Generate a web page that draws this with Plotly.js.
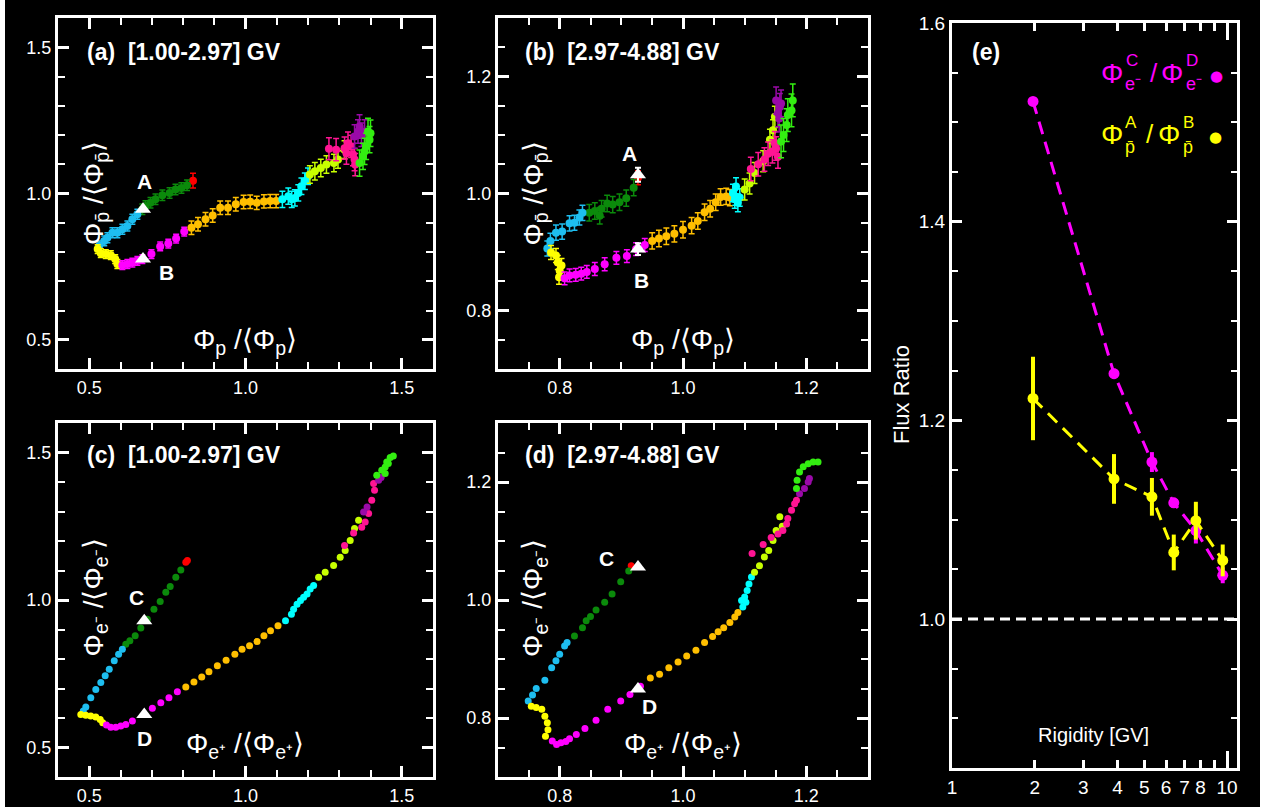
<!DOCTYPE html>
<html><head><meta charset="utf-8">
<script src="https://cdn.plot.ly/plotly-3.0.1.min.js"></script>
<style>html,body{margin:0;padding:0;background:#ffffff;}</style>
</head><body><div id="chart" style="width:1268px;height:811px;"></div>
<script>
// ---------------- DATA ----------------
// colour segments (time order of the trajectory)
const SEGMENTS = ['red','darkgreen','skyblue','yellow','magenta','orange','cyan','yellowgreen','pink','purple','green'];
const SEG_COLORS = ['#ff0000','#0b8a0b','#1ebef0','#ffff00','#ff00ff','#ffbf00','#00ffff','#c8ff00','#ff1493','#9a0aa8','#33ee11'];

// Panel (a): antiproton vs proton normalised flux, [1.00-2.97] GV
const A_X = [
  [0.832],
  [0.813,0.795,0.776,0.757,0.734,0.712,0.696,0.680,0.670],
  [0.654,0.638,0.622,0.606,0.590,0.574,0.558,0.548,0.532],
  [0.527,0.537,0.553,0.569,0.583,0.590],
  [0.606,0.622,0.638,0.654,0.670,0.699,0.727,0.753,0.778,0.804],
  [0.827,0.848,0.872,0.895,0.919,0.944,0.969,0.994,1.015,1.036,1.059,1.079,1.098],
  [1.118,1.137,1.148,1.158,1.169,1.179,1.190,1.200],
  [1.206,1.222,1.241,1.259,1.283,1.296,1.317],
  [1.267,1.290,1.317,1.328,1.338,1.323,1.344,1.349,1.351],
  [1.349,1.360,1.365,1.371,1.381],
  [1.365,1.376,1.381,1.386,1.397,1.392,1.400]
];
const A_Y = [
  [1.044],
  [1.028,1.019,1.014,1.002,0.994,0.980,0.968,0.957,0.946],
  [0.929,0.912,0.889,0.878,0.866,0.866,0.849,0.838,0.821],
  [0.810,0.796,0.793,0.789,0.776,0.759],
  [0.755,0.759,0.764,0.770,0.776,0.793,0.819,0.829,0.846,0.870],
  [0.883,0.895,0.912,0.925,0.951,0.951,0.963,0.971,0.972,0.968,0.973,0.974,0.974],
  [0.980,0.991,0.980,0.985,1.002,1.025,1.042,1.059],
  [1.065,1.076,1.087,1.099,1.104,1.116,1.150],
  [1.153,1.150,1.155,1.172,1.161,1.138,1.133,1.116,1.099],
  [1.195,1.212,1.229,1.201,1.212],
  [1.104,1.127,1.144,1.161,1.184,1.212,1.206]
];
const A_ERR = [0.025,0.018,0.017,0.015,0.015,0.023,0.028,0.030,0.038,0.040,0.045];

// Panel (b): [2.97-4.88] GV
const B_X = [
  [0.927],
  [0.920,0.908,0.897,0.886,0.877,0.868,0.865,0.857,0.848],
  [0.837,0.832,0.824,0.816,0.804,0.794,0.785,0.780],
  [0.786,0.794,0.803,0.797,0.800,0.799],
  [0.808,0.816,0.826,0.835,0.844,0.857,0.873,0.892,0.909,0.924,0.938],
  [0.950,0.961,0.973,0.986,1.000,1.014,1.024,1.035,1.044,1.053,1.061,1.070,1.076],
  [1.081,1.085,1.089,1.086,1.084,1.092],
  [1.100,1.108,1.116,1.130,1.141,1.146,1.149],
  [1.110,1.122,1.132,1.138,1.145,1.151,1.149,1.154],
  [1.154,1.157,1.151,1.159,1.156],
  [1.159,1.163,1.168,1.170,1.176,1.178]
];
const B_Y = [
  [1.027],
  [1.010,0.992,0.985,0.981,0.983,0.974,0.962,0.970,0.967],
  [0.967,0.959,0.950,0.949,0.935,0.933,0.919,0.906],
  [0.899,0.894,0.877,0.882,0.868,0.857],
  [0.855,0.860,0.861,0.863,0.866,0.871,0.879,0.890,0.893,0.905,0.912],
  [0.919,0.923,0.927,0.931,0.938,0.945,0.953,0.968,0.974,0.985,0.994,0.995,0.993],
  [1.001,0.995,0.984,1.012,0.990,0.993],
  [1.007,1.017,1.035,1.055,1.092,1.108,1.131],
  [1.042,1.050,1.058,1.068,1.072,1.077,1.086,1.063],
  [1.137,1.148,1.159,1.154,1.128],
  [1.089,1.100,1.117,1.134,1.142,1.159]
];
const B_ERR = [0.012,0.014,0.013,0.012,0.011,0.014,0.015,0.018,0.020,0.023,0.028];

// Panel (c): electron vs positron normalised flux, [1.00-2.97] GV
const C_X = [
  [0.809,0.814],
  [0.793,0.777,0.759,0.745,0.727,0.707,0.686,0.665,0.647,0.630,0.617],
  [0.606,0.594,0.580,0.564,0.551,0.537,0.521,0.505,0.489,0.481],
  [0.473,0.489,0.505,0.521,0.535,0.543],
  [0.555,0.569,0.585,0.601,0.617,0.638,0.676,0.702,0.729,0.755,0.782],
  [0.809,0.835,0.860,0.883,0.910,0.938,0.966,0.989,1.013,1.037,1.059,1.080,1.104],
  [1.128,1.147,1.154,1.165,1.176,1.186,1.197,1.207,1.218],
  [1.234,1.255,1.282,1.303,1.319,1.335,1.349,1.362],
  [1.317,1.346,1.372,1.383,1.394,1.404,1.413,1.410],
  [1.378,1.389,1.426,1.434],
  [1.420,1.436,1.447,1.447,1.452,1.457,1.463,1.473]
];
const C_Y = [
  [1.128,1.134],
  [1.102,1.077,1.046,1.026,0.995,0.969,0.935,0.905,0.879,0.862,0.850],
  [0.833,0.816,0.794,0.765,0.743,0.720,0.697,0.669,0.637,0.624],
  [0.612,0.609,0.607,0.603,0.595,0.584],
  [0.576,0.569,0.569,0.573,0.578,0.590,0.612,0.633,0.652,0.669,0.689],
  [0.705,0.722,0.739,0.757,0.777,0.796,0.816,0.833,0.845,0.859,0.879,0.896,0.913],
  [0.930,0.952,0.969,0.986,0.998,1.009,1.020,1.037,1.049],
  [1.077,1.094,1.117,1.145,1.168,1.202,1.242,1.270],
  [1.185,1.227,1.247,1.264,1.293,1.338,1.372,1.395],
  [1.298,1.315,1.406,1.415],
  [1.423,1.440,1.429,1.451,1.468,1.463,1.483,1.488]
];

// Panel (d): [2.97-4.88] GV
const D_X = [
  [0.916],
  [0.912,0.899,0.885,0.873,0.859,0.850,0.843,0.837,0.824],
  [0.812,0.808,0.800,0.794,0.787,0.776,0.762,0.756,0.749],
  [0.754,0.762,0.771,0.776,0.780,0.781,0.777],
  [0.788,0.795,0.802,0.810,0.816,0.827,0.841,0.859,0.878,0.899,0.914,0.931],
  [0.947,0.962,0.977,0.992,1.006,1.021,1.035,1.048,1.057,1.066,1.076,1.084,1.089],
  [1.097,1.095,1.100,1.104,1.107,1.111,1.102],
  [1.116,1.124,1.132,1.139,1.146,1.151,1.157,1.161],
  [1.112,1.130,1.143,1.154,1.162,1.168,1.170,1.176,1.181,1.184],
  [1.189,1.197,1.203,1.205],
  [1.184,1.185,1.189,1.195,1.203,1.211,1.219]
];
const D_Y = [
  [1.058],
  [1.049,1.031,1.010,0.996,0.983,0.972,0.965,0.953,0.939],
  [0.928,0.922,0.908,0.897,0.885,0.864,0.850,0.839,0.829],
  [0.820,0.818,0.815,0.803,0.792,0.780,0.769],
  [0.761,0.755,0.758,0.760,0.765,0.772,0.782,0.796,0.815,0.829,0.840,0.854],
  [0.868,0.874,0.885,0.895,0.905,0.915,0.928,0.938,0.946,0.953,0.962,0.971,0.979],
  [0.988,0.999,1.005,1.016,1.027,1.039,0.996],
  [1.047,1.058,1.073,1.084,1.101,1.118,1.141,1.125],
  [1.079,1.094,1.106,1.112,1.118,1.129,1.138,1.152,1.163,1.169],
  [1.180,1.189,1.200,1.206],
  [1.189,1.203,1.217,1.226,1.231,1.234,1.234]
];

// Reference times (white triangles)
const TRI_LABELS_AB = ['A','B'];
const TRI_LABELS_CD = ['C','D'];
const TRI_A_X = [0.672,0.672], TRI_A_Y = [0.946,0.776];
const TRI_B_X = [0.927,0.927], TRI_B_Y = [1.032,0.905], TRI_B_ERR = [0.012,0.010];
const TRI_C_X = [0.676,0.676], TRI_C_Y = [0.930,0.612];
const TRI_D_X = [0.927,0.927], TRI_D_Y = [1.056,0.849];

// Panel (e): flux ratios vs rigidity
const RIGIDITY = [1.97, 3.88, 5.33, 6.40, 7.70, 9.64];
const RATIO_CD = [1.521, 1.247, 1.158, 1.117, 1.089, 1.044];
const ERR_CD   = [0.004, 0.005, 0.010, 0.005, 0.013, 0.008];
const RATIO_AB = [1.222, 1.141, 1.123, 1.067, 1.099, 1.059];
const ERR_AB   = [0.042, 0.025, 0.019, 0.018, 0.019, 0.016];
const REF_RATIO = 1.0;
const E_TICKS = [1,2,3,4,5,6,7,8,9,10];
const E_TICK_TEXT = ['1','2','3','4','5','6','7','8','','10'];

// ---------------- FIGURE ----------------
const FONT = 'Liberation Sans, Arial, Helvetica, sans-serif';
const W = 1268, H = 811;
const px = v => v / W;
const py = v => 1 - v / H;

const traces = [];
function addPanel(X, Y, ERR, xa, ya, size) {
  for (let i = 0; i < SEGMENTS.length; i++) {
    const t = {
      type: 'scatter', mode: 'markers', name: SEGMENTS[i],
      x: X[i], y: Y[i], xaxis: xa, yaxis: ya,
      marker: {color: SEG_COLORS[i], size: size, line: {width: 0}},
      showlegend: false, hoverinfo: 'skip'
    };
    if (ERR) t.error_y = {type: 'constant', value: ERR[i], color: SEG_COLORS[i], thickness: 1.5, width: 3};
    traces.push(t);
  }
}
function addTri(X, Y, xa, ya, err) {
  const t = {type: 'scatter', mode: 'markers', x: X, y: Y, xaxis: xa, yaxis: ya,
    marker: {symbol: 'triangle-up', size: 14, color: 'white', line: {width: 0}},
    showlegend: false, hoverinfo: 'skip'};
  if (err) t.error_y = {type: 'data', array: err, color: 'white', thickness: 2, width: 3};
  traces.push(t);
}
addPanel(A_X, A_Y, A_ERR, 'x', 'y', 8);
addTri(TRI_A_X, TRI_A_Y, 'x', 'y');
addPanel(B_X, B_Y, B_ERR, 'x2', 'y2', 8);
addTri(TRI_B_X, TRI_B_Y, 'x2', 'y2', TRI_B_ERR);
addPanel(C_X, C_Y, null, 'x3', 'y3', 7);
addTri(TRI_C_X, TRI_C_Y, 'x3', 'y3');
addPanel(D_X, D_Y, null, 'x4', 'y4', 7);
addTri(TRI_D_X, TRI_D_Y, 'x4', 'y4');

traces.push({type: 'scatter', mode: 'lines+markers', x: RIGIDITY, y: RATIO_CD, xaxis: 'x5', yaxis: 'y5',
  line: {color: '#ff00ff', width: 3, dash: '13px,8px'}, marker: {color: '#ff00ff', size: 11},
  error_y: {type: 'data', array: ERR_CD, color: '#ff00ff', thickness: 4, width: 0},
  showlegend: false, hoverinfo: 'skip'});
traces.push({type: 'scatter', mode: 'lines+markers', x: RIGIDITY, y: RATIO_AB, xaxis: 'x5', yaxis: 'y5',
  line: {color: '#ffff00', width: 3, dash: '13px,8px'}, marker: {color: '#ffff00', size: 11},
  error_y: {type: 'data', array: ERR_AB, color: '#ffff00', thickness: 4, width: 0},
  showlegend: false, hoverinfo: 'skip'});
traces.push({type: 'scatter', mode: 'markers', x: [], y: [], xaxis: 'x6', yaxis: 'y5', showlegend: false});

function frame(extra) {
  return Object.assign({
    showline: true, linecolor: 'white', linewidth: 3, mirror: 'ticks',
    ticks: 'inside', tickcolor: 'white', tickwidth: 3, ticklen: 11,
    showgrid: false, zeroline: false, fixedrange: true, tickangle: 0,
    tickfont: {family: FONT, size: 18, color: 'white'}
  }, extra);
}
const minor = d => ({ticks: 'inside', ticklen: 7, tickwidth: 2, tickcolor: 'white', dtick: d, showgrid: false});

const domXL = [px(58), px(433)], domXM = [px(498), px(868)];
const domYT = [py(369), py(18)], domYB = [py(777), py(423)];

const layout = {
  width: W, height: H, autosize: false,
  margin: {l: 0, r: 0, t: 0, b: 0, pad: 0},
  paper_bgcolor: '#ffffff', plot_bgcolor: '#000000',
  font: {family: FONT, color: 'white'},
  showlegend: false,
  xaxis:  frame({domain: domXL, anchor: 'y',  range: [0.4, 1.6], tick0: 0, dtick: 0.5, tickformat: '.1f', minor: minor(0.1)}),
  yaxis:  frame({domain: domYT, anchor: 'x',  range: [0.4, 1.6], tick0: 0, dtick: 0.5, tickformat: '.1f', minor: minor(0.1)}),
  xaxis2: frame({domain: domXM, anchor: 'y2', range: [0.7, 1.3], tick0: 0, dtick: 0.2, tickformat: '.1f', minor: minor(0.05)}),
  yaxis2: frame({domain: domYT, anchor: 'x2', range: [0.7, 1.3], tick0: 0, dtick: 0.2, tickformat: '.1f', minor: minor(0.05)}),
  xaxis3: frame({domain: domXL, anchor: 'y3', range: [0.4, 1.6], tick0: 0, dtick: 0.5, tickformat: '.1f', minor: minor(0.1)}),
  yaxis3: frame({domain: domYB, anchor: 'x3', range: [0.4, 1.6], tick0: 0, dtick: 0.5, tickformat: '.1f', minor: minor(0.1)}),
  xaxis4: frame({domain: domXM, anchor: 'y4', range: [0.7, 1.3], tick0: 0, dtick: 0.2, tickformat: '.1f', minor: minor(0.05)}),
  yaxis4: frame({domain: domYB, anchor: 'x4', range: [0.7, 1.3], tick0: 0, dtick: 0.2, tickformat: '.1f', minor: minor(0.05)}),
  xaxis5: frame({domain: [px(952), px(1237)], anchor: 'y5', type: 'log', range: [0, 1.036],
    tickmode: 'array', tickvals: E_TICKS, ticktext: E_TICK_TEXT, ticklen: 8,
    tickfont: {family: FONT, size: 19, color: 'white'}}),
  yaxis5: frame({domain: [py(768), py(23)], anchor: 'x5', range: [0.85, 1.6], tick0: 0, dtick: 0.2, tickformat: '.1f',
    ticklen: 10, minor: Object.assign(minor(0.05), {ticklen: 6}),
    tickfont: {family: FONT, size: 19, color: 'white'}}),
  xaxis6: {overlaying: 'x5', anchor: 'y5', type: 'log', range: [0, 1.036], tickmode: 'array', tickvals: [10],
    showticklabels: false, ticks: 'inside', ticklen: 17, tickwidth: 3, tickcolor: 'white', mirror: 'ticks',
    showline: false, showgrid: false, zeroline: false, fixedrange: true},
  shapes: [
    {type: 'rect', xref: 'paper', yref: 'paper', x0: px(5), x1: px(1260), y0: py(807), y1: 1,
     fillcolor: '#000000', line: {width: 0}, layer: 'below'},
    {type: 'line', xref: 'x5 domain', yref: 'y5', x0: 0, x1: 1, y0: REF_RATIO, y1: REF_RATIO,
     line: {color: 'white', width: 3, dash: '10px,6px'}}
  ],
  annotations: []
};

const A = layout.annotations;
function ann(text, xref, yref, x, y, o) {
  A.push(Object.assign({text: text, xref: xref, yref: yref, x: x, y: y, showarrow: false,
    xanchor: 'center', yanchor: 'middle', font: {family: FONT, size: 20, color: 'white'}}, o || {}));
}
const NB = '\u00a0';
const bold = s => '<b>' + s + '</b>';
const TF = {family: FONT, size: 23, color: 'white'};
// panel titles
ann(bold('(a)' + NB + NB + '[1.00-2.97] GV'), 'x domain', 'y domain', 0.072, 0.903, {xanchor: 'left', font: TF});
ann(bold('(b)' + NB + NB + '[2.97-4.88] GV'), 'x2 domain', 'y2 domain', 0.068, 0.903, {xanchor: 'left', font: TF});
ann(bold('(c)' + NB + NB + '[1.00-2.97] GV'), 'x3 domain', 'y3 domain', 0.072, 0.91, {xanchor: 'left', font: TF});
ann(bold('(d)' + NB + NB + '[2.97-4.88] GV'), 'x4 domain', 'y4 domain', 0.068, 0.91, {xanchor: 'left', font: TF});
ann(bold('(e)'), 'x5 domain', 'y5 domain', 0.063, 0.961, {xanchor: 'left', font: TF});

// inner axis labels
const PBAR = 'p\u0304';
const XL_P = '\u03a6<sub>p</sub> /\u27e8\u03a6<sub>p</sub>\u27e9';
const YL_PB = '\u03a6<sub>' + PBAR + '</sub> /\u27e8\u03a6<sub>' + PBAR + '</sub>\u27e9';
const XL_EP = '\u03a6<sub>e\u207a</sub> /\u27e8\u03a6<sub>e\u207a</sub>\u27e9';
const YL_EM = '\u03a6<sub>e\u207b</sub> /\u27e8\u03a6<sub>e\u207b</sub>\u27e9';
const LBLF = {family: FONT, size: 28, color: 'white'};
ann(XL_P, 'x domain', 'y domain', 0.499, 0.077, {font: LBLF});
ann(YL_PB, 'x domain', 'y domain', 0.10, 0.50, {font: LBLF, textangle: -90});
ann(XL_P, 'x2 domain', 'y2 domain', 0.50, 0.077, {font: LBLF});
ann(YL_PB, 'x2 domain', 'y2 domain', 0.10, 0.50, {font: LBLF, textangle: -90});
ann(XL_EP, 'x3 domain', 'y3 domain', 0.499, 0.088, {font: LBLF});
ann(YL_EM, 'x3 domain', 'y3 domain', 0.10, 0.506, {font: LBLF, textangle: -90});
ann(XL_EP, 'x4 domain', 'y4 domain', 0.50, 0.09, {font: LBLF});
ann(YL_EM, 'x4 domain', 'y4 domain', 0.10, 0.506, {font: LBLF, textangle: -90});

// triangle letters
const LF = {family: FONT, size: 21, color: 'white'};
ann(bold(TRI_LABELS_AB[0]), 'x', 'y', 0.678, 1.041, {font: LF});
ann(bold(TRI_LABELS_AB[1]), 'x', 'y', 0.748, 0.731, {font: LF});
ann(bold(TRI_LABELS_AB[0]), 'x2', 'y2', 0.914, 1.068, {font: LF});
ann(bold(TRI_LABELS_AB[1]), 'x2', 'y2', 0.933, 0.851, {font: LF});
ann(bold(TRI_LABELS_CD[0]), 'x3', 'y3', 0.650, 1.007, {font: LF});
ann(bold(TRI_LABELS_CD[1]), 'x3', 'y3', 0.678, 0.530, {font: LF});
ann(bold(TRI_LABELS_CD[0]), 'x4', 'y4', 0.876, 1.071, {font: LF});
ann(bold(TRI_LABELS_CD[1]), 'x4', 'y4', 0.946, 0.820, {font: LF});

// panel (e) texts
ann('Flux Ratio', 'paper', 'paper', px(901), py(395), {textangle: -90, font: {family: FONT, size: 22, color: 'white'}});
ann('Rigidity [GV]', 'paper', 'paper', px(1093), py(735), {font: {family: FONT, size: 20, color: 'white'}});

// legend of panel (e), built glyph by glyph so super/subscripts stack
const MAG = '#ff00ff', YEL = '#ffff00';
function piece(t, x, y, size, color, anchor) {
  ann(t, 'paper', 'paper', px(x), py(y), {xanchor: anchor || 'center', font: {family: FONT, size: size, color: color}});
}
piece('\u03a6', 1112, 73, 28, MAG);
piece('C', 1124, 61, 17, MAG, 'left');
piece('e\u207b', 1123, 84, 18, MAG, 'left');
piece('/', 1154, 73, 26, MAG);
piece('\u03a6', 1172, 73, 28, MAG);
piece('D', 1184, 61, 17, MAG, 'left');
piece('e\u207b', 1184, 84, 18, MAG, 'left');
ann('\u25cf', 'paper', 'paper', px(1216), py(76), {font: {family: 'DejaVu Sans', size: 15, color: MAG}});

piece('\u03a6', 1112, 134, 28, YEL);
piece('A', 1123, 123, 17, YEL, 'left');
piece(PBAR, 1123, 147, 18, YEL, 'left');
piece('/', 1150, 134, 26, YEL);
piece('\u03a6', 1169, 134, 28, YEL);
piece('B', 1181, 123, 17, YEL, 'left');
piece(PBAR, 1181, 147, 18, YEL, 'left');
ann('\u25cf', 'paper', 'paper', px(1215), py(137), {font: {family: 'DejaVu Sans', size: 15, color: YEL}});

Plotly.newPlot('chart', traces, layout, {displayModeBar: false, staticPlot: true});
</script></body></html>
